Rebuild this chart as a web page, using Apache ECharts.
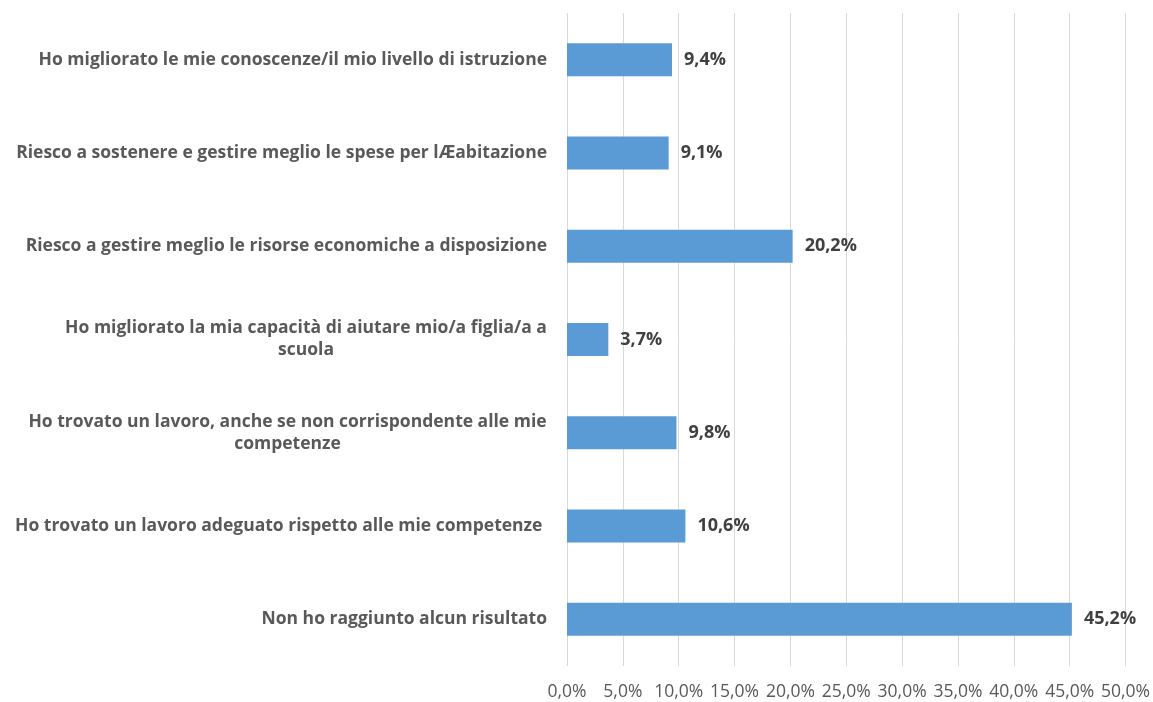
<!DOCTYPE html>
<html>
<head>
<meta charset="utf-8">
<script src="https://cdn.jsdelivr.net/npm/echarts@6/dist/echarts.min.js"></script>
<style>
  html, body { margin: 0; padding: 0; background: #fff; }
  #chart { width: 1153px; height: 702px; }
</style>
</head>
<body>
<div id="chart"></div>
<script>
// categorie (dall'alto verso il basso)
var categorie = [
    'Ho migliorato le mie conoscenze/il mio livello di istruzione',
    'Riesco a sostenere e gestire meglio le spese per lÆabitazione',
    'Riesco a gestire meglio le risorse economiche a disposizione',
    'Ho migliorato la mia capacità di aiutare mio/a figlia/a a\nscuola',
    'Ho trovato un lavoro, anche se non corrispondente alle mie\ncompetenze',
    'Ho trovato un lavoro adeguato rispetto alle mie competenze ',
    'Non ho raggiunto alcun risultato'
];
// percentuali
var valori = [9.4, 9.1, 20.2, 3.7, 9.8, 10.6, 45.2];
// tick asse x
var tickMax = 50;
var tickPasso = 5;

var dimLabel = 17.5;

// misura larghezza testo per centrare le righe delle etichette su due righe
var ctxMisura = document.createElement('canvas').getContext('2d');
ctxMisura.font = 'bold ' + dimLabel + 'px "Open Sans"';
function larghezza(t) {
    return Math.ceil(ctxMisura.measureText(t).width);
}

function percento(v) {
    return v.toFixed(1).replace('.', ',') + '%';
}

// uno stile rich per ogni etichetta su più righe, largo quanto la riga più lunga
var stiliRich = {};
categorie.forEach(function (c, i) {
    var righe = c.split('\n');
    if (righe.length > 1) {
        var w = 0;
        righe.forEach(function (r) { w = Math.max(w, larghezza(r)); });
        stiliRich['c' + i] = {
            color: '#595959',
            fontFamily: 'Open Sans',
            fontWeight: 'bold',
            fontSize: dimLabel,
            lineHeight: 22,
            align: 'center',
            width: w
        };
    }
});

var chart = echarts.init(document.getElementById('chart'));

var option = {
    animation: false,
    grid: {
        left: 567,
        right: 26,
        top: 13,
        bottom: 36,
        containLabel: false
    },
    xAxis: {
        type: 'value',
        min: 0,
        max: tickMax,
        interval: tickPasso,
        axisLine: { show: false },
        axisTick: { show: false },
        splitLine: { lineStyle: { color: '#D9D9D9', width: 1 } },
        axisLabel: {
            color: '#595959',
            fontFamily: 'Open Sans',
            fontSize: 17.5,
            margin: 17,
            formatter: function (v) { return percento(v); }
        }
    },
    yAxis: {
        type: 'category',
        inverse: true,
        data: categorie,
        axisLine: { show: false },
        axisTick: { show: false },
        splitLine: { show: false },
        axisLabel: {
            color: '#595959',
            fontFamily: 'Open Sans',
            fontWeight: 'bold',
            fontSize: dimLabel,
            margin: 20,
            align: 'right',
            lineHeight: 22,
            formatter: function (v, idx) {
                var righe = v.split('\n');
                if (righe.length == 1) {
                    return v;
                }
                return righe.map(function (r) {
                    return '{c' + idx + '|' + r + '}';
                }).join('\n');
            },
            rich: stiliRich
        }
    },
    series: [{
        type: 'bar',
        data: valori,
        barWidth: 33,
        itemStyle: { color: '#5B9BD5' },
        label: {
            show: true,
            position: 'right',
            distance: 12,
            color: '#404040',
            fontFamily: 'Open Sans',
            fontWeight: 'bold',
            fontSize: 18,
            formatter: function (p) { return percento(p.value); }
        }
    }]
};

chart.setOption(option);
</script>
</body>
</html>
